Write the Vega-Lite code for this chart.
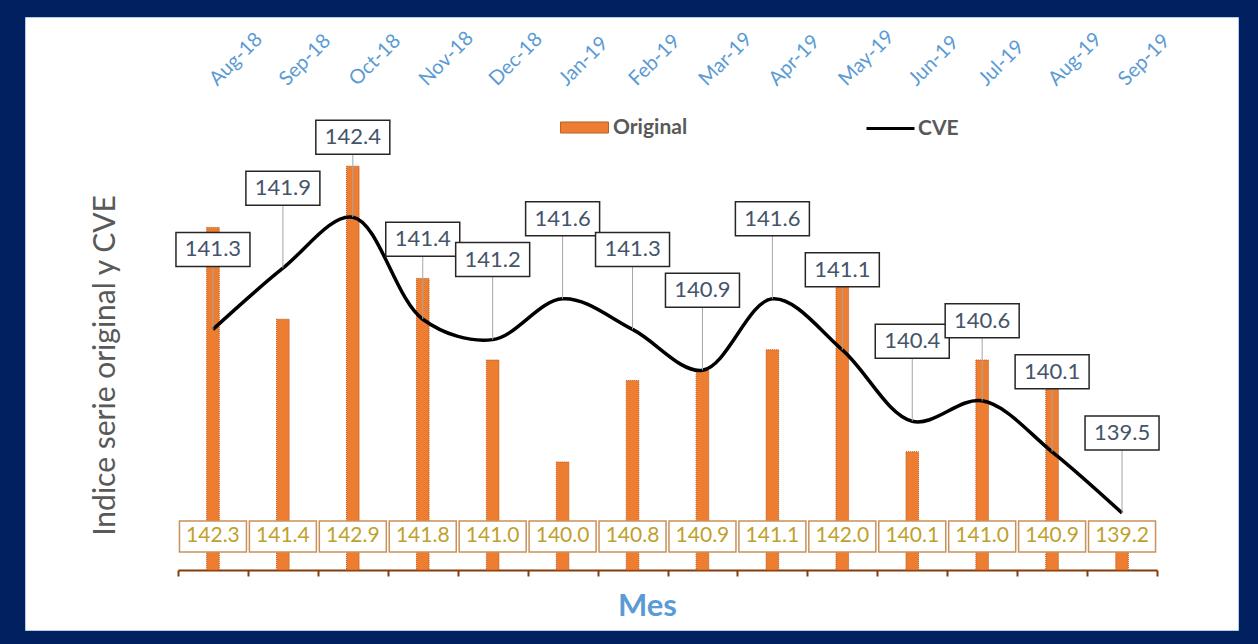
{
  "$schema": "https://vega.github.io/schema/vega-lite/v6.json",
  "autosize": {"type": "none"},
  "width": 1213,
  "height": 613,
  "padding": {"left": 25, "top": 17, "right": 20, "bottom": 14},
  "background": "#002060",
  "config": {
    "view": {"fill": "#ffffff", "stroke": "#b4c7e7", "strokeWidth": 1},
    "font": "Lato"
  },
  "data": {
    "values": [
      {"mes": "Aug-18", "original": 142.3, "cve": 141.3},
      {"mes": "Sep-18", "original": 141.4, "cve": 141.9},
      {"mes": "Oct-18", "original": 142.9, "cve": 142.4},
      {"mes": "Nov-18", "original": 141.8, "cve": 141.4},
      {"mes": "Dec-18", "original": 141.0, "cve": 141.2},
      {"mes": "Jan-19", "original": 140.0, "cve": 141.6},
      {"mes": "Feb-19", "original": 140.8, "cve": 141.3},
      {"mes": "Mar-19", "original": 140.9, "cve": 140.9},
      {"mes": "Apr-19", "original": 141.1, "cve": 141.6},
      {"mes": "May-19", "original": 142.0, "cve": 141.1},
      {"mes": "Jun-19", "original": 140.1, "cve": 140.4},
      {"mes": "Jul-19", "original": 141.0, "cve": 140.6},
      {"mes": "Aug-19", "original": 140.9, "cve": 140.1},
      {"mes": "Sep-19", "original": 139.2, "cve": 139.5}
    ]
  },
  "layer": [
    {
      "mark": {"type": "bar", "width": {"band": 0.18}, "stroke": "#b9561b", "strokeWidth": 1, "strokeDash": [1, 1]},
      "encoding": {
        "x": {
          "field": "mes", "type": "nominal", "sort": null,
          "scale": {"range": [153, 1132], "paddingInner": 0, "paddingOuter": 0},
          "axis": {
            "orient": "bottom", "offset": -60, "domainColor": "#843c0c", "domainWidth": 2,
            "ticks": true, "tickBand": "extent", "tickColor": "#843c0c", "tickWidth": 2, "tickSize": 6,
            "labels": false, "grid": false, "title": "Mes", "titleColor": "#5b9bd5",
            "titleFontSize": 31, "titleFontWeight": "bold", "titlePadding": 14, "titleX": 622
          }
        },
        "y": {
          "field": "original", "type": "quantitative",
          "scale": {"domain": [138.353, 144.363], "zero": false, "nice": false},
          "axis": {
            "title": "Indice serie original y CVE", "domain": false, "ticks": false, "labels": false, "grid": false,
            "titleX": 80, "titleY": 348, "titleAngle": -90, "titleAlign": "center", "titleBaseline": "middle",
            "titleColor": "#595959", "titleFontSize": 30, "titleFontWeight": "normal"
          }
        },
        "y2": {"datum": 138.941},
        "color": {
          "datum": "Original", "type": "nominal",
          "scale": {"range": ["#ed7d31"]},
          "legend": {
            "orient": "none", "legendX": 535, "legendY": 86, "title": null,
            "symbolType": "M-1,-0.23H1V0.23H-1Z", "symbolSize": 2304,
            "symbolStrokeColor": "#b5642a", "symbolStrokeWidth": 1,
            "labelFont": "Lato", "labelFontSize": 21, "labelFontWeight": "bold", "labelColor": "#595959", "labelOffset": 4
          }
        }
      }
    },
    {
      "mark": {"type": "line", "interpolate": "catmull-rom", "strokeWidth": 3.5},
      "encoding": {
        "x": {
          "field": "mes", "type": "nominal", "sort": null,
          "axis": {
            "orient": "top", "offset": -71, "domain": false, "ticks": false, "grid": false,
            "labelAngle": -45, "labelAlign": "left", "labelBaseline": "middle", "labelColor": "#5b9bd5",
            "labelFontSize": 20, "labelPadding": 6, "labelOverlap": false, "title": null
          }
        },
        "y": {"field": "cve", "type": "quantitative", "axis": null},
        "stroke": {
          "datum": "CVE", "type": "nominal",
          "scale": {"range": ["#000000"]},
          "legend": {
            "orient": "none", "legendX": 840, "legendY": 86, "title": null,
            "symbolType": "stroke", "symbolSize": 2304, "symbolStrokeWidth": 3,
            "labelFont": "Lato", "labelFontSize": 21, "labelFontWeight": "bold", "labelColor": "#595959", "labelOffset": 2
          }
        }
      }
    },
    {
      "mark": {"type": "rule", "color": "#a6a6a6", "strokeWidth": 1, "y2Offset": -63},
      "encoding": {
        "x": {"field": "mes", "type": "nominal", "sort": null, "axis": null},
        "y": {"field": "cve", "type": "quantitative", "axis": null},
        "y2": {"field": "cve"}
      }
    },
    {
      "mark": {"type": "point", "shape": "M-1,-0.4595H1V0.4595H-1Z", "size": 5476, "filled": true, "fill": "#ffffff", "stroke": "#262626", "strokeWidth": 1.5, "opacity": 1, "yOffset": -80},
      "encoding": {
        "x": {"field": "mes", "type": "nominal", "sort": null, "axis": null},
        "y": {"field": "cve", "type": "quantitative", "axis": null}
      }
    },
    {
      "mark": {"type": "text", "yOffset": -80, "fontSize": 22, "color": "#44546a", "baseline": "middle"},
      "encoding": {
        "x": {"field": "mes", "type": "nominal", "sort": null, "axis": null},
        "y": {"field": "cve", "type": "quantitative", "axis": null},
        "text": {"field": "cve", "type": "quantitative", "format": ".1f"}
      }
    },
    {
      "mark": {"type": "point", "shape": "M-1,-0.4627H1V0.4627H-1Z", "size": 4489, "filled": true, "fill": "#ffffff", "stroke": "#c9915a", "strokeWidth": 1.5, "opacity": 1},
      "encoding": {
        "x": {"field": "mes", "type": "nominal", "sort": null, "axis": null},
        "y": {"datum": 139.27, "type": "quantitative", "axis": null}
      }
    },
    {
      "mark": {"type": "text", "fontSize": 21, "color": "#bf9f2e", "baseline": "middle"},
      "encoding": {
        "x": {"field": "mes", "type": "nominal", "sort": null, "axis": null},
        "y": {"datum": 139.27, "type": "quantitative", "axis": null},
        "text": {"field": "original", "type": "quantitative", "format": ".1f"}
      }
    }
  ],
  "resolve": {"axis": {"x": "independent", "y": "independent"}}
}
